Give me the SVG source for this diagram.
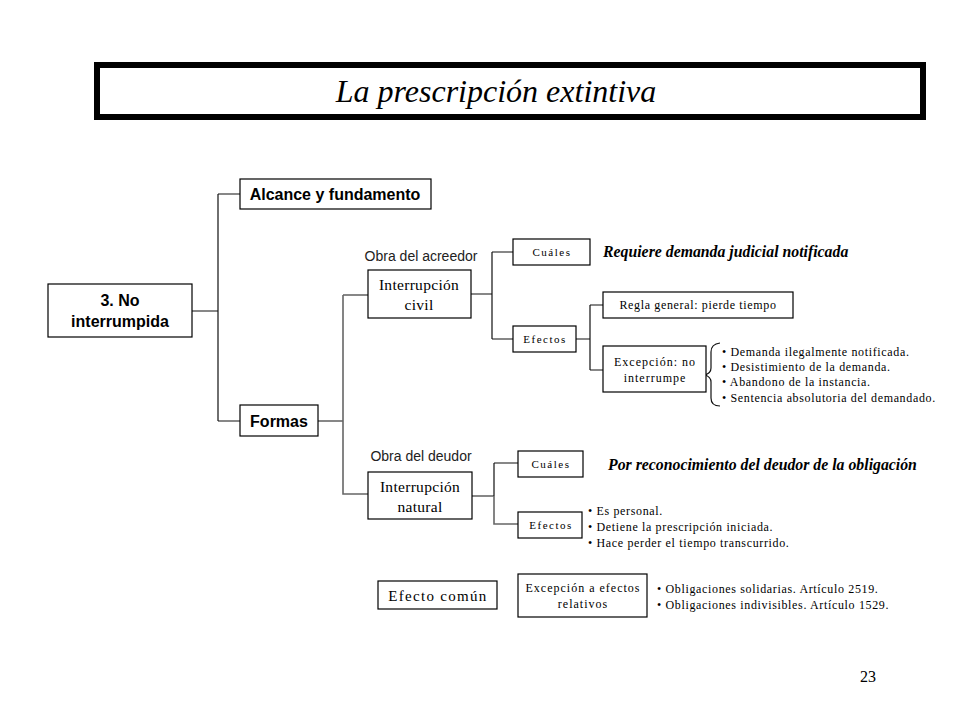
<svg xmlns="http://www.w3.org/2000/svg" width="960" height="720" viewBox="0 0 960 720">
<style>
.box{fill:#fff;stroke:#000;stroke-width:1.2}
.ln{fill:none;stroke:#111;stroke-width:1.2}
.lg{fill:none;stroke:#666;stroke-width:1.6}
.sb{font-family:"Liberation Sans",Arial,sans-serif;font-weight:bold;font-size:16px;fill:#000}
.sa{font-family:"Liberation Sans",Arial,sans-serif;font-size:14px;fill:#222}
.se{font-family:"Liberation Serif","Times New Roman",serif;fill:#000}
.sm{font-family:"Liberation Serif","Times New Roman",serif;font-size:11px;letter-spacing:1.5px;fill:#000}
.md{font-family:"Liberation Serif","Times New Roman",serif;font-size:12px;letter-spacing:1px;fill:#000}
.bl{font-family:"Liberation Serif","Times New Roman",serif;font-size:12px;letter-spacing:0.65px;fill:#000}
.bi{font-family:"Liberation Serif","Times New Roman",serif;font-weight:bold;font-style:italic;font-size:15.8px;fill:#000}
</style>
<rect width="960" height="720" fill="#fff"/>
<g id="title">
<rect x="97" y="65" width="826" height="52" fill="#fff" stroke="#000" stroke-width="6"/>
<text x="496" y="102" text-anchor="middle" class="se" font-style="italic" font-size="32">La prescripción extintiva</text>
</g>
<g id="connectors">
<path class="ln" d="M192,311 H218 M218,194 V421 M218,194 H240 M218,421 H240"/>
<path class="ln" d="M318,421 H343 M343,295 H368"/>
<path class="lg" d="M343,295 V494 H368"/>
<path class="ln" d="M471,294 H492 M492,252 V339 M492,252 H513 M492,339 H513" stroke-width="1.4"/>
<path class="ln" d="M576,339 H590 M590,305 V370 M590,305 H603 M590,370 H603"/>
<path class="ln" d="M472,496 H494 M494,463 H518 M494,463 V496"/>
<path class="lg" d="M494,496 V524 H518"/>
<path class="ln" d="M720,343 Q711,344 711,352 V368 Q711,373 705,375 Q711,377 711,382 V398 Q711,406 720,406"/>
</g>
<g id="n-root"><rect class="box" x="48" y="284" width="144" height="53"/><text class="sb" x="120" y="306" text-anchor="middle">3. No</text><text class="sb" x="120" y="327" text-anchor="middle">interrumpida</text></g>
<g id="n-alcance"><rect class="box" x="240" y="179" width="191" height="30"/><text class="sb" x="335" y="200" text-anchor="middle">Alcance y fundamento</text></g>
<g id="n-formas"><rect class="box" x="240" y="405" width="78" height="31"/><text class="sb" x="279" y="427" text-anchor="middle">Formas</text></g>
<g id="l-acreedor"><text class="sa" x="421" y="261" text-anchor="middle">Obra del acreedor</text></g>
<g id="n-civil"><rect class="box" x="368" y="270" width="103" height="48"/><text class="se" font-size="15.5" x="419" y="290" text-anchor="middle" letter-spacing="0.3">Interrupción</text><text class="se" font-size="15.5" x="419" y="310" text-anchor="middle" letter-spacing="0.3">civil</text></g>
<g id="n-cuales1"><rect class="box" x="513" y="239" width="77" height="26"/><text class="sm" x="552" y="256" text-anchor="middle">Cuáles</text></g>
<g id="t-requiere"><text class="bi" x="603" y="257">Requiere demanda judicial notificada</text></g>
<g id="n-efectos1"><rect class="box" x="513" y="326" width="63" height="26"/><text class="sm" x="545" y="343" text-anchor="middle">Efectos</text></g>
<g id="n-regla"><rect class="box" x="603" y="292" width="190" height="26"/><text class="bl" x="698" y="309" text-anchor="middle">Regla general: pierde tiempo</text></g>
<g id="n-excepcion"><rect class="box" x="603" y="346" width="103" height="46"/><text class="md" x="655" y="366" text-anchor="middle">Excepción: no</text><text class="md" x="655" y="382" text-anchor="middle">interrumpe</text></g>
<g id="t-excepciones"><text class="bl" x="722" y="356">• Demanda ilegalmente notificada.</text><text class="bl" x="722" y="371">• Desistimiento  de la demanda.</text><text class="bl" x="722" y="386">• Abandono de la instancia.</text><text class="bl" x="722" y="402">• Sentencia absolutoria del demandado.</text></g>
<g id="l-deudor"><text class="sa" x="421" y="461" text-anchor="middle">Obra del deudor</text></g>
<g id="n-natural"><rect class="box" x="368" y="472" width="104" height="47"/><text class="se" font-size="15.5" x="420" y="492" text-anchor="middle" letter-spacing="0.3">Interrupción</text><text class="se" font-size="15.5" x="420" y="512" text-anchor="middle" letter-spacing="0.3">natural</text></g>
<g id="n-cuales2"><rect class="box" x="518" y="451" width="65" height="26"/><text class="sm" x="551" y="468" text-anchor="middle">Cuáles</text></g>
<g id="t-por"><text class="bi" x="608" y="470">Por reconocimiento del deudor de la obligación</text></g>
<g id="n-efectos2"><rect class="box" x="518" y="512" width="64" height="26"/><text class="sm" x="551" y="529" text-anchor="middle">Efectos</text></g>
<g id="t-efectos2"><text class="bl" x="588" y="515">• Es personal.</text><text class="bl" x="588" y="531">• Detiene la prescripción iniciada.</text><text class="bl" x="588" y="547">• Hace perder el tiempo transcurrido.</text></g>
<g id="n-comun"><rect class="box" x="378" y="581" width="119" height="28"/><text class="se" font-size="15" letter-spacing="1.3" x="438" y="601" text-anchor="middle">Efecto común</text></g>
<g id="n-relativos"><rect class="box" x="518" y="574" width="129" height="43"/><text class="md" x="583" y="592" text-anchor="middle" letter-spacing="1.1">Excepción a efectos</text><text class="md" x="583" y="608" text-anchor="middle" letter-spacing="1.1">relativos</text></g>
<g id="t-obligaciones"><text class="bl" x="657" y="593" letter-spacing="0.6">• Obligaciones solidarias. Artículo 2519.</text><text class="bl" x="657" y="609" letter-spacing="0.6">• Obligaciones indivisibles.  Artículo 1529.</text></g>
<g id="page"><text class="se" font-size="16" x="860" y="682">23</text></g>
</svg>
